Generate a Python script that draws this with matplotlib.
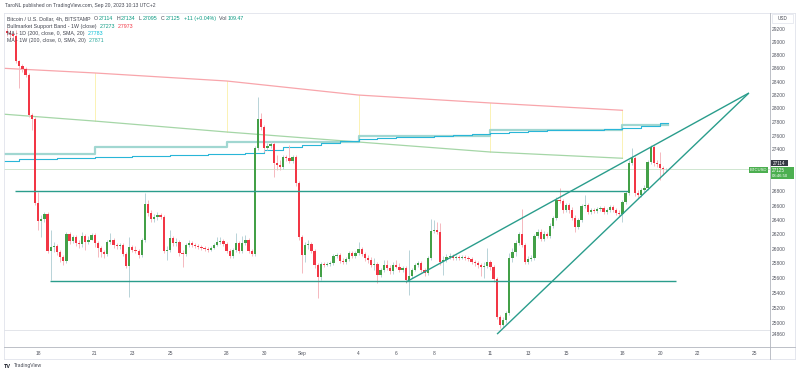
import matplotlib
matplotlib.use("Agg")
import matplotlib.pyplot as plt
import numpy as np
from matplotlib.lines import Line2D
from matplotlib.patches import Rectangle
from matplotlib.ticker import NullLocator, NullFormatter

plt.rcParams['font.family'] = ['Liberation Sans', 'DejaVu Sans']

# ---------------- data ----------------
# BTC/USD 4h candles, starting Aug 16 08:00 (chart time), one bar per 4 hours
first_open = 29169
closes = [
    29138, 29123, 29092, 28711, 28635, 28590, 28500, 27903, 27844, 26636,
    26383, 26411, 26481, 25969, 26024, 26037, 25955, 25886, 25831, 26203,
    26106, 26161, 26079, 26065, 26175, 26092, 26120, 26189, 26079, 26010,
    25955, 25927, 26092, 26120, 26051, 26037, 26051, 25927, 25764, 26024,
    25982, 25969, 25914, 26120, 26622, 26495, 26411, 26439, 26467, 26439,
    25969, 25982, 26148, 26079, 26092, 25941, 25927, 26051, 26079, 26051,
    26037, 26024, 26010, 25996, 25982, 26010, 26051, 26092, 26106, 26065,
    25969, 25900, 25982, 26079, 25969, 26079, 26120, 25969, 25927, 27421,
    27844, 27727, 27421, 27450, 27479, 27204, 27176, 27147, 27290, 27276,
    27233, 27290, 26919, 26161, 25914, 26051, 26065, 25969, 25777, 25614,
    25791, 25777, 25791, 25804, 25900, 25914, 25831, 25818, 25859, 25941,
    25900, 25941, 25996, 25927, 25872, 25845, 25777, 25791, 25641, 25709,
    25777, 25736, 25696, 25777, 25750, 25709, 25736, 25574, 25628, 25709,
    25777, 25804, 25709, 25668, 25872, 26244, 26258, 26231, 25818, 25845,
    25886, 25900, 25872, 25886, 25872, 25886, 25872, 25859, 25818, 25804,
    25777, 25750, 25764, 25818, 25750, 25587, 25079, 24973, 25039, 25132,
    25872, 25955, 26079, 26203, 26051, 25818, 25859, 25872, 26175, 26231,
    26134, 26203, 26175, 26314, 26425, 26678, 26664, 26537, 26607, 26537,
    26425, 26300, 26397, 26593, 26607, 26509, 26537, 26523, 26551, 26565,
    26509, 26537, 26579, 26537, 26495, 26481, 26650, 26777, 27204, 27276,
    26777, 26748, 26819, 26848, 27218, 27435, 27204, 27190, 27130, 27114,
    27125,
]
highs = [
    29215, 29184, 29169, 29184, 28726, 28666, 28620, 28530, 27933, 27873,
    26791, 26467, 26509, 26509, 26258, 26092, 26065, 25982, 25914, 26231,
    26231, 26189, 26189, 26120, 26231, 26203, 26175, 26217, 26217, 26106,
    26037, 25982, 26120, 26217, 26148, 26079, 26079, 26079, 25955, 26161,
    26051, 26037, 25996, 26148, 26777, 26678, 26537, 26481, 26509, 26495,
    26467, 26037, 26258, 26175, 26148, 26120, 25982, 26079, 26120, 26106,
    26079, 26065, 26051, 26037, 26024, 26037, 26079, 26161, 26161, 26134,
    26092, 25996, 26010, 26217, 26106, 26175, 26189, 26148, 25996, 27450,
    28170, 27933, 27756, 27494, 27523, 27508, 27319, 27247, 27319, 27319,
    27464, 27319, 27319, 26947, 26189, 26092, 26120, 26092, 25996, 25804,
    25818, 25818, 25818, 25831, 25927, 25941, 25941, 25872, 25886, 25969,
    25969, 25969, 26092, 26024, 25955, 25914, 25886, 25872, 25818, 25736,
    25845, 25845, 25777, 25818, 25845, 25804, 25764, 25764, 25982, 25736,
    25804, 25831, 25831, 25736, 25900, 26411, 26397, 26369, 26355, 25900,
    25927, 25941, 25927, 25914, 25914, 25914, 25914, 25900, 25886, 25845,
    25831, 25804, 25818, 26010, 25845, 25777, 25614, 25105, 25079, 25158,
    25941, 26010, 26120, 26231, 26551, 26079, 25900, 25914, 26203, 26272,
    26272, 26244, 26231, 26355, 26453, 26720, 26848, 26692, 26636, 26636,
    26579, 26467, 26425, 26622, 26748, 26636, 26565, 26565, 26579, 26593,
    26593, 26565, 26607, 26607, 26565, 26537, 26678, 26805, 27247, 27421,
    27305, 26819, 26848, 26890, 27247, 27464, 27464, 27247, 27363, 27161,
    27134,
]
lows = [
    29092, 29061, 29031, 28681, 28304, 28544, 28469, 27873, 27683, 26608,
    26258, 26161, 26369, 25941, 25574, 25955, 25914, 25818, 25777, 25804,
    26065, 26079, 26037, 26010, 26024, 25982, 26065, 26120, 26024, 25886,
    25886, 25872, 25900, 26065, 26010, 25996, 25996, 25900, 25736, 25345,
    25955, 25941, 25872, 25886, 26092, 26453, 26369, 26369, 26397, 26411,
    25941, 25845, 25955, 26037, 26037, 25900, 25750, 25900, 26024, 26024,
    26010, 25996, 25982, 25969, 25955, 25969, 25996, 26037, 26065, 26037,
    25941, 25872, 25872, 25955, 25941, 25941, 26051, 25941, 25900, 25900,
    27392, 27683, 27363, 27392, 27421, 27004, 27104, 27104, 27118, 27233,
    27204, 27204, 26876, 26120, 25668, 25818, 25996, 25941, 25736, 25332,
    25574, 25750, 25764, 25764, 25777, 25872, 25804, 25791, 25791, 25831,
    25872, 25872, 25914, 25900, 25831, 25804, 25750, 25709, 25533, 25614,
    25682, 25709, 25655, 25655, 25736, 25682, 25682, 25533, 25372, 25601,
    25696, 25750, 25682, 25628, 25641, 25845, 26217, 26203, 25777, 25641,
    25818, 25859, 25845, 25845, 25845, 25859, 25845, 25831, 25791, 25764,
    25736, 25628, 25601, 25736, 25709, 25547, 25052, 24933, 24947, 25000,
    25105, 25818, 25900, 26051, 26024, 25791, 25791, 25831, 25845, 26148,
    26106, 26106, 26148, 26148, 26286, 26397, 26636, 26495, 26509, 26495,
    26397, 26231, 26272, 26369, 26565, 26481, 26481, 26495, 26495, 26523,
    26481, 26481, 26509, 26509, 26467, 26453, 26369, 26622, 26748, 27176,
    26734, 26706, 26720, 26791, 26819, 27190, 27161, 27147, 26961, 27032,
    27095,
]
bar_start_day = 16 + 2 / 6        # Aug 16 08:00 (days counted from Aug 0)
bar_step_day = 1 / 6

# Bull market support band (1W) – weekly points
band_days = [16.2, 21, 28, 35, 42, 49]
band_upper = [28600, 28530, 28409, 28199, 28081, 27973]
band_lower = [27915, 27814, 27654, 27508, 27363, 27273]

# MA 1W (200) - weekly steps
ma1w_days = [16.2, 21, 28, 35, 42, 49, 51.42]
ma1w_vals = [27334, 27435, 27508, 27596, 27683, 27756, 27756]

# MA 1D (200) - daily steps
ma1d_days = list(range(16, 52)) + [51.42]
ma1d_vals = [27233, 27261, 27269, 27276, 27283, 27290, 27298, 27305, 27312, 27319,
             27327, 27334, 27341, 27348, 27392, 27435, 27464, 27494, 27523, 27552,
             27566, 27581, 27588, 27596, 27610, 27625, 27639, 27654, 27668, 27676,
             27683, 27690, 27697, 27712, 27741, 27783]
ma1d_vals = ma1d_vals + [ma1d_vals[-1]]

# drawn levels / trendlines (day, price)
res_line = ([16.78, 49.3], [26805, 26805])
sup_line = ([18.63, 51.84], [25560, 25560])
wedge_up = ([37.52, 55.71], [25547, 28229])
wedge_lo = ([42.35, 55.71], [24854, 28229])
last_price = 27125
bottom_line = 24907

xtick_days = [18, 21, 23, 25, 28, 30, 32, 35, 37, 39, 42, 44, 46, 49, 51, 53, 56]
xtick_labels = ['18', '21', '23', '25', '28', '30', 'Sep', '4', '6', '8',
                '11', '13', '15', '18', '20', '22', '25']
ytick_vals = [29200, 29000, 28800, 28600, 28400, 28200, 28000, 27800, 27600,
              27400, 26800, 26600, 26400, 26200, 26000, 25800, 25600, 25400,
              25200, 25000, 24860]

# ---------------- figure ----------------
W, H = 800, 375
fig = plt.figure(figsize=(8, 3.75), dpi=100)
fig.patch.set_facecolor('white')


def fx(x):
    return x / W


def fy(y):
    return 1 - y / H


ax = fig.add_axes([fx(4), fy(347), fx(770) - fx(4), fy(13) - fy(347)])
ax.set_yscale('log')
ax.set_xlim(16.19, 56.83)
ax.set_ylim(24685, 29448)
for s in ax.spines.values():
    s.set_visible(False)

UP, DOWN = '#43a047', '#f23645'
UPW, DOWNW = '#b8d3d8', '#f5b8be'

n = len(closes)
days = bar_start_day + np.arange(n) * bar_step_day
opens = [first_open] + closes[:-1]
for d, o, c, h, l in zip(days, opens, closes, highs, lows):
    up = c >= o
    hi = max(h, o, c)
    lo = min(l, o, c)
    ax.vlines(d, lo, hi, color=UPW if up else DOWNW, lw=0.7, zorder=3)
    bottom = min(o, c)
    height = max(abs(c - o), 10)
    ax.bar(d, height, bottom=bottom, width=0.12, color=UP if up else DOWN,
           linewidth=0, zorder=4)

# bull market support band
ax.plot(band_days, band_upper, color='#f8a5ab', lw=0.9, zorder=2)
ax.plot(band_days, band_lower, color='#a5d6a7', lw=0.9, zorder=2)
for d, u, lo in zip(band_days[1:], band_upper[1:], band_lower[1:]):
    ax.plot([d, d], [lo, u], color='#fbf0a8', lw=0.6, zorder=1.5)

# moving averages
ax.step(ma1w_days, ma1w_vals, where='post', color='#97d3cc', lw=1.6, alpha=0.9, zorder=2)
ax.step(ma1d_days, ma1d_vals, where='post', color='#29b6d8', lw=0.8, zorder=2.2)

# levels
ax.axhline(last_price, color='#cfe6d0', lw=0.7, zorder=1)
ax.axhline(bottom_line, color='#e3e5ea', lw=0.7, zorder=1)
TEAL = '#2a9d8c'
for xs, ys in (res_line, sup_line, wedge_up, wedge_lo):
    ax.plot(xs, ys, color=TEAL, lw=1.0, zorder=5, solid_capstyle='butt')

# axes ticks
ax.yaxis.tick_right()
ax.yaxis.set_minor_locator(NullLocator())
ax.yaxis.set_minor_formatter(NullFormatter())
ax.set_yticks(ytick_vals)
ax.set_yticklabels([str(v) for v in ytick_vals])
ax.tick_params(axis='y', length=0, pad=1.5, labelsize=3.5, labelcolor='#50535e')
for t in ax.get_yticklabels():
    t.set_horizontalalignment('left')
ax.set_xticks(xtick_days)
ax.set_xticklabels(xtick_labels)
ax.tick_params(axis='x', length=0, pad=3.0, labelsize=3.5, labelcolor='#50535e')


# frame lines
def hline(y, x0, x1, col, lw=0.6):
    fig.add_artist(Line2D([fx(x0), fx(x1)], [fy(y), fy(y)], color=col, lw=lw))


def vline(x, y0, y1, col, lw=0.6):
    fig.add_artist(Line2D([fx(x), fx(x)], [fy(y0), fy(y1)], color=col, lw=lw))


hline(13, 4, 795, '#e0e3eb')
hline(359, 4, 795, '#e0e3eb')
vline(4, 13, 359, '#e0e3eb')
vline(795, 13, 359, '#e0e3eb')
hline(347, 4, 795, '#b2b5be')
vline(770, 13, 359, '#b2b5be')

# texts
r = fig.canvas.get_renderer()


def inline(x, y, parts, size=3.75, gap=0.0):
    for s, col in parts:
        t = fig.text(fx(x), fy(y), s, fontsize=size, color=col, va='center', ha='left')
        bb = t.get_window_extent(renderer=r)
        x += bb.width + gap


DARK = '#434651'
G = '#089981'
inline(5, 6, [("TaroNL published on TradingView.com, Sep 20, 2023 10:13 UTC+2", DARK)], size=3.6)
inline(7, 18.3, [("Bitcoin / U.S. Dollar, 4h, BITSTAMP", DARK), ("  O", DARK), ("27114", G),
                 ("  H", DARK), ("27134", G), ("  L", DARK), ("27095", G), ("  C", DARK),
                 ("27125", G), ("  +11 (+0.04%)", G), ("  Vol", DARK), ("109.47", G)], gap=0.6)
inline(7, 26.2, [("Bullmarket Support Band - 1W (close)", DARK), ("  27273", G), ("  27973", '#f23645')], gap=0.6)
inline(7, 33.5, [("MA - 1D (200, close, 0, SMA, 20)", DARK), ("  27783", '#00bcd4')], gap=0.6)
inline(7, 40.8, [("MA - 1W (200, close, 0, SMA, 20)", DARK), ("  27871", '#26a69a')], gap=0.6)


# price scale labels
def box(x0, y0, x1, y1, fc, ec='none'):
    fig.add_artist(Rectangle((fx(x0), fy(y1)), fx(x1) - fx(x0), fy(y0) - fy(y1),
                             facecolor=fc, edgecolor=ec, lw=0.5, zorder=10))


box(772, 13.5, 793, 23, 'white', '#e0e3eb')
fig.text(fx(782.5), fy(18.3), "USD", fontsize=3.3, color=DARK, ha='center', va='center', zorder=11)
box(770.5, 160.5, 787.5, 166.2, '#363a45')
fig.text(fx(779), fy(163.4), "27114", fontsize=3.3, color='white', ha='center', va='center', zorder=11)
box(770.5, 166.5, 793.5, 178.5, '#4caf50')
fig.text(fx(772), fy(170.0), "27125", fontsize=3.3, color='white', ha='left', va='center', zorder=11)
fig.text(fx(772), fy(175.6), "03:46:50", fontsize=3.1, color='white', ha='left', va='center', zorder=11)
box(748.5, 166.7, 767.5, 172.5, '#4caf50')
fig.text(fx(758), fy(169.7), "BTCUSD", fontsize=3.0, color='white', ha='center', va='center', zorder=11)

# footer
fig.text(fx(4), fy(366), "TV", fontsize=4.0, color='#131722', fontweight='bold', ha='left', va='center')
fig.text(fx(13.5), fy(366), "TradingView", fontsize=3.6, color='#434651', ha='left', va='center')

fig.savefig('out.png', dpi=100, facecolor='white')
